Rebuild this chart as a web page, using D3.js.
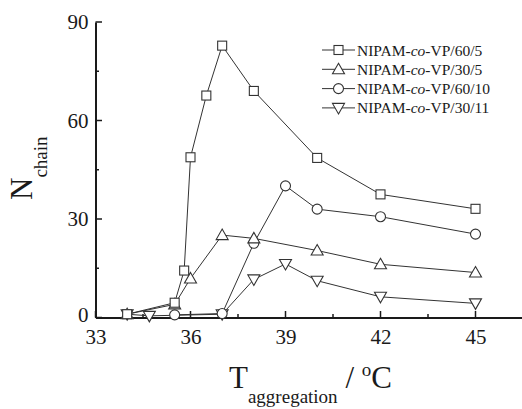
<!DOCTYPE html>
<html><head><meta charset="utf-8">
<script src="https://cdn.jsdelivr.net/npm/d3@7"></script>
<style>body{margin:0;background:#fff}svg{display:block}svg text{font-family:"Liberation Serif","Times New Roman",serif;fill:#1a1a1a}</style>
</head><body><svg id="c" width="522" height="409"></svg>
<script>
const seriesNames = ["NIPAM-co-VP/60/5","NIPAM-co-VP/30/5","NIPAM-co-VP/60/10","NIPAM-co-VP/30/11"];
const x605 = [34, 35.5, 35.8, 36, 36.5, 37, 38, 40, 42, 45];
const y605 = [1, 4.5, 14.3, 48.8, 67.6, 82.8, 69, 48.6, 37.5, 33.1];
const x305 = [34, 35.5, 36, 37, 38, 40, 42, 45];
const y305 = [1, 4, 11.9, 25.1, 24.1, 20.4, 16.2, 13.7];
const x6010 = [35.5, 37, 38, 39, 40, 42, 45];
const y6010 = [0.8, 1.2, 22.6, 40.1, 33, 30.7, 25.4];
const x3011 = [34, 34.7, 37, 38, 39, 40, 42, 45];
const y3011 = [1, 0.5, 1, 11.6, 16.3, 11.2, 6.3, 4.3];
const xTicks = [33, 36, 39, 42, 45];
const yTicks = [0, 30, 60, 90];

const FONT = "Liberation Serif";
const svg = d3.select("#c");
const x = d3.scaleLinear().domain([33, 46.5]).range([95.5, 523]);
const y = d3.scaleLinear().domain([0, 90]).range([317.5, 22]);

const series = [
  {xs: x605, ys: y605, sym: "square"},
  {xs: x305, ys: y305, sym: "up"},
  {xs: x6010, ys: y6010, sym: "circle"},
  {xs: x3011, ys: y3011, sym: "down"}
];

function marker(g, sym, cx, cy) {
  const st = {fill: "#fff", stroke: "#333", "stroke-width": 1.1};
  let el;
  if (sym === "square") el = g.append("rect").attr("x", cx-4.5).attr("y", cy-4.5).attr("width", 9).attr("height", 9);
  else if (sym === "circle") el = g.append("circle").attr("cx", cx).attr("cy", cy).attr("r", 5);
  else if (sym === "up") el = g.append("path").attr("d", `M${cx},${cy-6}L${cx+6},${cy+4.5}L${cx-6},${cy+4.5}Z`);
  else el = g.append("path").attr("d", `M${cx},${cy+6}L${cx+6},${cy-4.5}L${cx-6},${cy-4.5}Z`);
  for (const k in st) el.attr(k, st[k]);
}

// axes
const xAxis = d3.axisBottom(x).tickValues(xTicks).tickFormat(d3.format("d")).tickSize(0).tickPadding(12);
const gx = svg.append("g").attr("transform", "translate(0,317.5)").call(xAxis).attr("font-family", FONT);
gx.select(".domain").attr("stroke", "#1a1a1a").attr("stroke-width", 2);
gx.selectAll("text").attr("font-size", 21).attr("fill", "#1a1a1a");
const yAxis = d3.axisLeft(y).tickValues(yTicks).tickSize(0).tickPadding(7);
const gy = svg.append("g").attr("transform", "translate(95.5,0)").call(yAxis).attr("font-family", FONT);
gy.select(".domain").attr("stroke", "#1a1a1a").attr("stroke-width", 2);
gy.selectAll("text").attr("font-size", 21).attr("fill", "#1a1a1a");
gy.selectAll(".tick").filter(d => d === 0).select("text").attr("dy", "0.2em");

// inward ticks
const xMinor = d3.range(34.5, 46.5, 3);
svg.append("g").selectAll("line").data(xTicks).join("line")
  .attr("x1", d => x(d)).attr("x2", d => x(d)).attr("y1", 317.5).attr("y2", 311).attr("stroke", "#1a1a1a").attr("stroke-width", 1.5);
svg.append("g").selectAll("line").data(xMinor).join("line")
  .attr("x1", d => x(d)).attr("x2", d => x(d)).attr("y1", 317.5).attr("y2", 314).attr("stroke", "#1a1a1a").attr("stroke-width", 1.5);
svg.append("g").selectAll("line").data(yTicks).join("line")
  .attr("y1", d => y(d)).attr("y2", d => y(d)).attr("x1", 95.5).attr("x2", 102).attr("stroke", "#1a1a1a").attr("stroke-width", 1.5);
svg.append("g").selectAll("line").data([15, 45, 75]).join("line")
  .attr("y1", d => y(d)).attr("y2", d => y(d)).attr("x1", 95.5).attr("x2", 99).attr("stroke", "#1a1a1a").attr("stroke-width", 1.5);

// lines
const line = d3.line().x(d => x(d[0])).y(d => y(d[1]));
series.forEach(s => {
  const pts = s.xs.map((v, i) => [v, s.ys[i]]);
  svg.append("path").attr("d", line(pts)).attr("fill", "none").attr("stroke", "#333").attr("stroke-width", 1);
});
[3, 2, 1, 0].forEach(k => {
  const s = series[k];
  const g = svg.append("g");
  s.xs.forEach((v, i) => marker(g, s.sym, x(v), y(s.ys[i])));
});

// legend
const leg = svg.append("g");
seriesNames.forEach((name, i) => {
  const ly = 50 + i * 19.3;
  leg.append("line").attr("x1", 322).attr("x2", 355).attr("y1", ly).attr("y2", ly).attr("stroke", "#333").attr("stroke-width", 1);
  marker(leg, series[i].sym, 338.5, ly);
  const parts = name.split("-co-");
  const t = leg.append("text").attr("x", 357).attr("y", ly + 5.5).attr("font-size", 15.5).attr("font-family", FONT);
  t.append("tspan").text(parts[0] + "-");
  t.append("tspan").attr("font-style", "italic").text("co");
  t.append("tspan").text("-" + parts[1]);
});

// axis titles
const yt = svg.append("text").attr("transform", "translate(32,200) rotate(-90)").attr("font-size", 31).attr("font-family", FONT);
yt.append("tspan").text("N");
yt.append("tspan").attr("font-size", 19).attr("dy", 15).text("chain");

const xt = svg.append("text").attr("x", 229).attr("y", 388).attr("font-size", 31).attr("font-family", FONT);
xt.append("tspan").text("T");
xt.append("tspan").attr("font-size", 19).attr("dy", 15).text("aggregation");
xt.append("tspan").attr("dy", -15).text(" / ");
xt.append("tspan").attr("font-size", 19).attr("dy", -12).text("o");
xt.append("tspan").attr("dy", 12).text("C");
</script></body></html>
